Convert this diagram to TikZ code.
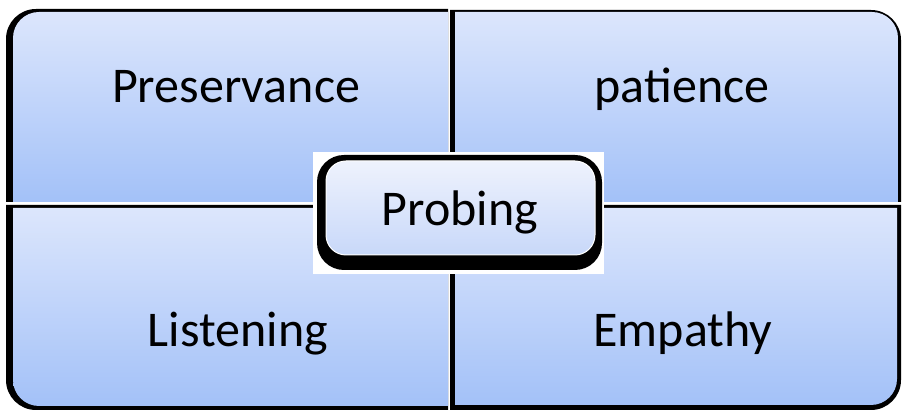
\documentclass[tikz,border=0pt]{standalone}
\usepackage{fontspec}
\setmainfont{Carlito}
\definecolor{qtop}{HTML}{DCE6FC}
\definecolor{qbot}{HTML}{A3C1F8}
\definecolor{ptop}{HTML}{EEF2FD}
\definecolor{pbot}{HTML}{C8D8F9}
\tikzset{
  quad/.style={top color=qtop, bottom color=qbot},
  edge/.style={fill=black},
  label/.style={anchor=base, inner sep=0pt, font=\fontsize{50}{60}\selectfont, text=black}
}
\begin{document}
\begin{tikzpicture}[x=1pt,y=1pt]
\useasboundingbox (0,0) rectangle (902,411);
\fill[white] (0,0) rectangle (902,411);
% top-left
\fill[edge] (448,209) -- (6,209) -- (6,372) arc[start angle=180,end angle=90,radius=30] -- (448,402) -- cycle;
\shade[quad] (448,209) -- (13,209) -- (13,373) arc[start angle=180,end angle=90,radius=26] -- (448,399) -- cycle;
% top-right
\fill[edge] (450,209) -- (450,401) -- (871,401) arc[start angle=90,end angle=0,radius=30] -- (901,209) -- cycle;
\shade[quad] (455,209) -- (455,399) -- (872,399) arc[start angle=90,end angle=0,radius=26] -- (898,209) -- cycle;
% bottom-left
\fill[edge] (448,206) -- (6,206) -- (6,31) arc[start angle=180,end angle=270,radius=30] -- (448,1) -- cycle;
\shade[quad] (448,203) -- (13,203) -- (13,31) arc[start angle=180,end angle=270,radius=26] -- (448,5) -- cycle;
% bottom-right
\fill[edge] (450,206) -- (901,206) -- (901,31) arc[start angle=0,end angle=-90,radius=30] -- (450,1) -- cycle;
\shade[quad] (455,203) -- (897,203) -- (897,32) arc[start angle=0,end angle=-90,radius=26] -- (455,6) -- cycle;
% centre
\fill[white] (313,137) rectangle (604,259);
\fill[edge, rounded corners=27pt] (317,141) rectangle (602,256);
\shade[top color=ptop, bottom color=pbot, rounded corners=20pt, draw=white, line width=1pt] (326,156) rectangle (595,250);
% labels
\node[label] (pres) at (236,308) {Preservance};
\node[label] (pat) at (682,308) {patience};
\node[label] (list) at (238,64) {Listening};
\node[label] (emp) at (683,64) {Empathy};
\node[label] (prob) at (460,185) {Probing};
\end{tikzpicture}
\end{document}
